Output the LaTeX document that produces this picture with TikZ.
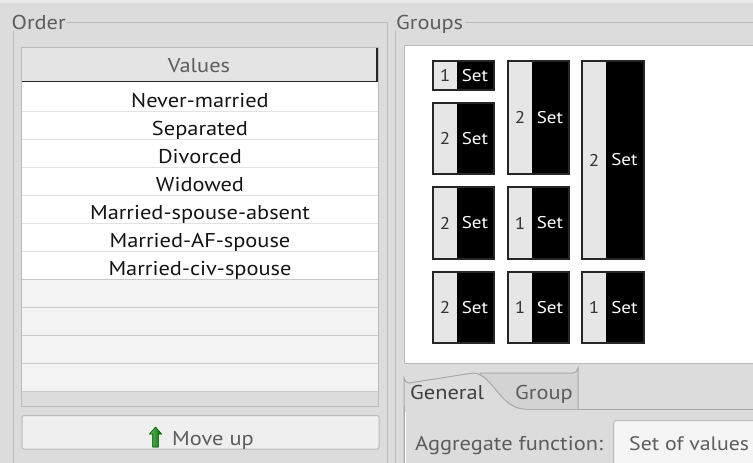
\documentclass[tikz,border=0pt]{standalone}
\usepackage{fontspec}
\setmainfont{PT Sans}[FakeStretch=1.12]
\definecolor{bgc}{HTML}{DCDCDC}
\definecolor{framec}{HTML}{BABABA}
\definecolor{rowgray}{HTML}{F3F3F3}
\definecolor{rowline}{HTML}{E2E2E2}
\definecolor{rowline2}{HTML}{C8C8C8}
\definecolor{headc}{HTML}{E4E4E4}
\definecolor{uitext}{HTML}{5C5C5C}
\definecolor{celltext}{HTML}{141414}
\definecolor{boxlight}{HTML}{E6E6E6}
\definecolor{btnc}{HTML}{EFEFEF}
\definecolor{tabline}{HTML}{A8A8A8}
\definecolor{combo}{HTML}{F5F5F5}
\tikzset{
  uilabel/.style={font=\fontsize{20}{22}\selectfont, text=uitext, inner sep=0pt},
  celllabel/.style={font=\fontsize{20}{22}\selectfont, text=celltext, inner sep=0pt, anchor=base},
  numtext/.style={font=\fontsize{17}{19}\selectfont, text=black!80, inner sep=0pt},
  settext/.style={font=\fontsize{17}{19}\selectfont, text=white, inner sep=0pt},
  frameline/.style={draw=framec, line width=1pt},
}
\newcommand\grpbox[6]{%
  \fill[boxlight] (#2,#3) rectangle ({#2+24},#5);
  \fill[black] ({#2+24},#3) rectangle (#4,#5);
  \draw[black!85, line width=1.2pt] (#2,#3) rectangle (#4,#5);
  \node[numtext] (#1n) at ({#2+12},{(#3+#5)/2}) {#6};
  \node[settext] (#1s) at ({(#2+24+#4)/2-0.5},{(#3+#5)/2}) {Set};
}
\begin{document}
\begin{tikzpicture}[x=1pt,y=-1pt]
\useasboundingbox (0,0) rectangle (753,463);
\fill[bgc] (0,0) rectangle (753,463);
\fill[bgc!60!white] (0,0) rectangle (753,3);
% ---------- Order group box ----------
\node[uilabel, anchor=base west] (ordert) at (11.5,30) {Order};
\draw[frameline] (66,22) -- (387,22) -- (387,463);
\draw[frameline] (13,31) -- (13,463);
% table
\fill[white] (21,47) rectangle (378,279);
\fill[rowgray] (21,279) rectangle (378,391);
\fill[bgc] (21,391) rectangle (378,406);
\fill[headc] (22,47) rectangle (377,82);
\draw[black!85, line width=1.5pt] (22,81.5) -- (377,81.5) -- (377,47);
\draw[white, line width=1pt] (22,47.5) -- (376,47.5);
\foreach \yy in {111,139,167,195,223,251}{\draw[rowline, line width=1pt] (21,\yy) -- (378,\yy);}
\foreach \yy in {279,307,335,363,391}{\draw[rowline2, line width=1pt] (21,\yy) -- (378,\yy);}
\draw[framec, line width=1pt] (21,47) rectangle (378,406);
\node[uilabel, anchor=base] (values) at (199,72.5) {Values};
\node[celllabel] (r1) at (200,107.5) {Never-married};
\node[celllabel] (r2) at (200,135.5) {Separated};
\node[celllabel] (r3) at (200,163.5) {Divorced};
\node[celllabel] (r4) at (200,191.5) {Widowed};
\node[celllabel] (r5) at (200,219.5) {Married-spouse-absent};
\node[celllabel] (r6) at (200,247.5) {Married-AF-spouse};
\node[celllabel] (r7) at (200,275.5) {Married-civ-spouse};
% Move up button
\draw[framec, fill=btnc, line width=1pt, rounded corners=2pt] (22,415.5) rectangle (379,449);
\filldraw[draw=green!40!black, left color=green!55!black!60!white, right color=green!45!black, line width=0.6pt]
  (155.5,427) -- (161.5,434) -- (158.3,434) -- (158.3,447) -- (152.7,447) -- (152.7,434) -- (149.5,434) -- cycle;
\node[uilabel, anchor=base west] (moveup) at (172,445) {Move up};
% ---------- Groups group box ----------
\node[uilabel, anchor=base west] (groupst) at (396,30) {Groups};
\draw[frameline] (465,22) -- (753,22);
\draw[frameline] (395,31) -- (395,463);
\draw[draw=framec, fill=white, line width=1pt] (404,45) rectangle (760,363);
\grpbox{b1}{433}{61}{494}{90}{1}
\grpbox{b2}{433}{103}{494}{174}{2}
\grpbox{b3}{433}{187}{494}{259}{2}
\grpbox{b4}{433}{272}{494}{343}{2}
\grpbox{b5}{508}{61}{569}{174}{2}
\grpbox{b6}{508}{187}{569}{259}{1}
\grpbox{b7}{508}{272}{569}{343}{1}
\grpbox{b8}{582}{61}{644}{259}{2}
\grpbox{b9}{582}{272}{644}{343}{1}
% ---------- Tabs ----------
\draw[tabline, line width=1pt] (525,409) -- (753,409);
\draw[tabline, fill=bgc!96!black, line width=1pt] (480,409) -- (480,373) -- (573,373) arc[start angle=90, end angle=0, radius=5] -- (578,409);
\draw[tabline, fill=bgc, line width=1pt] (404,463) -- (404,378) arc[start angle=180, end angle=90, radius=5] -- (473,373)
  .. controls (492,373) and (500,409) .. (525,409);
\fill[bgc] (404.5,409.6) rectangle (525,463);
\draw[tabline, line width=1pt] (404,405) -- (404,463);
\draw[white, line width=1pt] (405.5,412) -- (405.5,463);
\node[uilabel, anchor=base west, text=black!75] (general) at (410,399.5) {General};
\node[uilabel, anchor=base west] (group) at (515,399.5) {Group};
\node[uilabel, anchor=base west] (aggr) at (415,450.5) {Aggregate function:};
\draw[framec, fill=combo, line width=1pt, rounded corners=3pt] (613.5,420.5) rectangle (770,480);
\node[uilabel, anchor=base west, font=\fontsize{19.5}{21}\selectfont] (setvals) at (629,450) {Set of values};
\end{tikzpicture}
\end{document}
